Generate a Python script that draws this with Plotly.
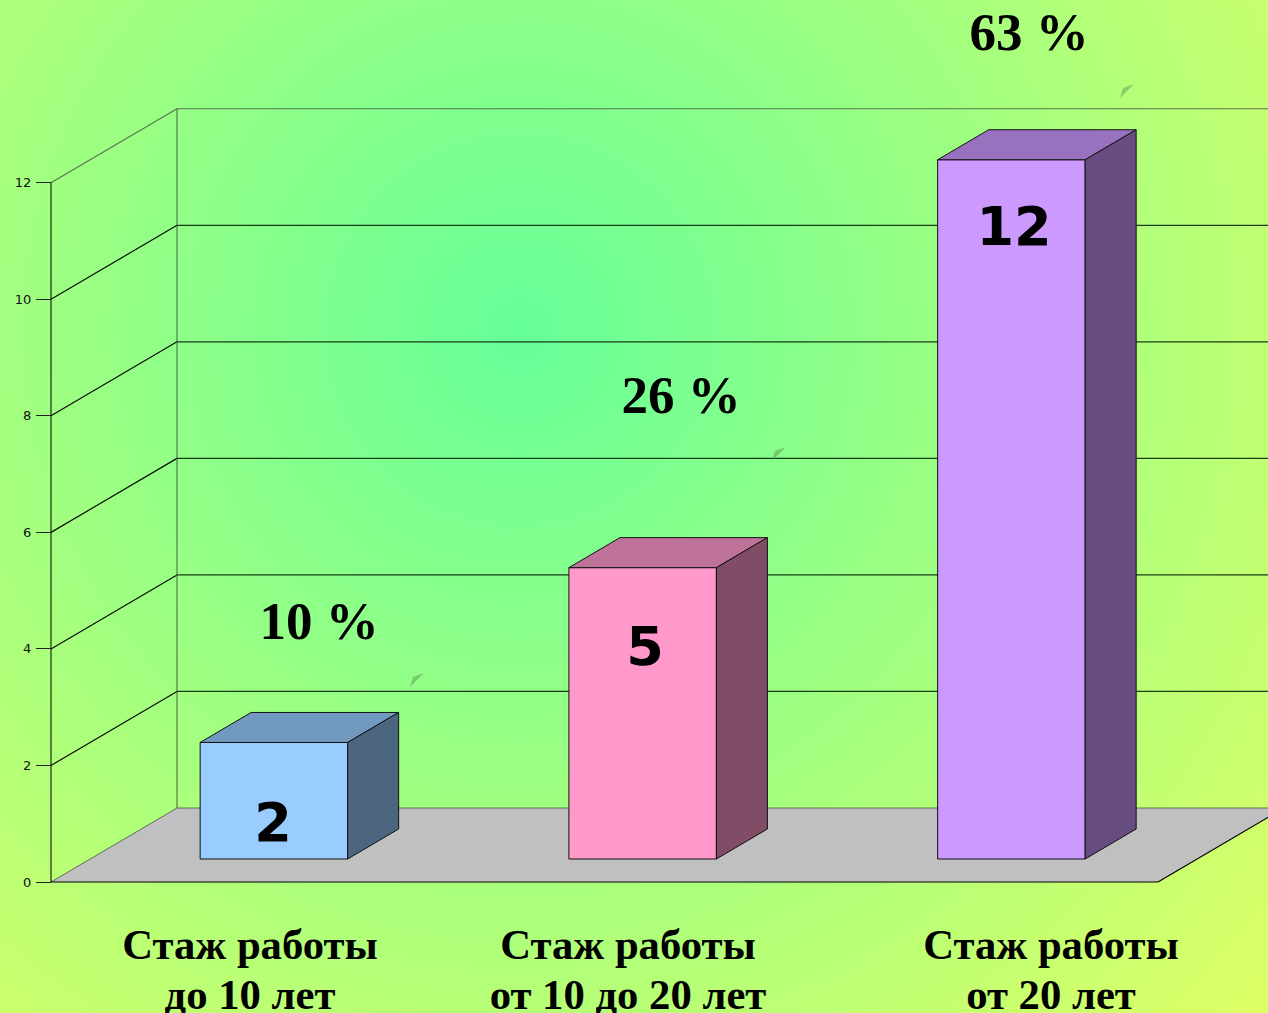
import base64
import plotly.graph_objects as go

# ---- data ----
categories = [["Стаж работы", "до 10 лет"], ["Стаж работы", "от 10 до 20 лет"], ["Стаж работы", "от 20 лет"]]
values = [2, 5, 12]
value_labels = ["2", "5", "12"]
percent_labels = ["10 %", "26 %", "63 %"]
y_ticks = [0, 2, 4, 6, 8, 10, 12]
front_colors = ["#99CCFF", "#FF99CC", "#CC99FF"]
top_colors = ["#7299BF", "#BF7299", "#9972BF"]
side_colors = ["#4C6680", "#804C66", "#664C80"]

# ---- layout constants ----
W, H = 1268, 1013
PX_X = 368.75            # px per category step
PX_Y = 58.27             # px per value unit
X0_PX = 234.7            # px of category 0 on the front plane
Y0_PX = 882              # px of value 0 on the front plane
BAR_W = 0.4


def xu(px):
    return (px - X0_PX) / PX_X


def yu(px):
    return (Y0_PX - px) / PX_Y


def dxu(px):
    return px / PX_X


def dyu(px):
    return px / PX_Y


x_range = [xu(0), xu(W)]
y_range = [yu(H), yu(0)]
plane_left, plane_right = xu(51), xu(1158)
wall_dx, wall_dy = dxu(126), dyu(74)
bar_dx, bar_dy = dxu(39.2), dyu(23)      # front face of bars relative to front plane
deep_dx, deep_dy = dxu(51), dyu(30)      # bar depth

svg = f"""<svg xmlns="http://www.w3.org/2000/svg" width="{W}" height="{H}">
<defs><radialGradient id="g" gradientUnits="userSpaceOnUse" cx="520" cy="330" r="1000">
<stop offset="0" stop-color="#66FF99"/><stop offset="1" stop-color="#DDFF66"/></radialGradient></defs>
<rect width="{W}" height="{H}" fill="url(#g)"/></svg>"""
bg_src = "data:image/svg+xml;base64," + base64.b64encode(svg.encode()).decode()

shapes = []


def line(x0, y0, x1, y1, color, width=1.0):
    shapes.append(dict(type="line", xref="x", yref="y", x0=x0, y0=y0, x1=x1, y1=y1,
                       line=dict(color=color, width=width), layer="below"))


# floor
floor = [(plane_left, 0), (plane_right, 0), (plane_right + wall_dx, wall_dy), (plane_left + wall_dx, wall_dy)]
shapes.append(dict(type="path", xref="x", yref="y", layer="below", fillcolor="#C0C0C0", line=dict(width=0),
                   path="M" + " L".join(f"{a},{b}" for a, b in floor) + " Z"))
# walls and grid
TOP = y_ticks[-1]
for t in y_ticks[1:-1]:
    line(plane_left, t, plane_left + wall_dx, t + wall_dy, "rgba(0,0,0,0.95)", 1.2)
    line(plane_left + wall_dx, t + wall_dy, plane_right + wall_dx, t + wall_dy, "rgba(10,40,10,0.9)", 1.2)
grey = "rgba(60,60,60,0.7)"
line(plane_left, TOP, plane_left + wall_dx, TOP + wall_dy, grey, 1.2)
line(plane_left + wall_dx, TOP + wall_dy, plane_right + wall_dx, TOP + wall_dy, grey, 1.2)
line(plane_left + wall_dx, wall_dy, plane_left + wall_dx, TOP + wall_dy, grey, 1.2)
line(plane_left + wall_dx, wall_dy, plane_right + wall_dx, wall_dy, grey)
line(plane_left, 0, plane_left + wall_dx, wall_dy, grey)
line(plane_left, 0, plane_left, TOP, "#000000")
line(plane_left, 0, plane_right, 0, "#000000", 1.2)
line(plane_right, 0, plane_right + wall_dx, wall_dy, "#000000", 1.2)

fig = go.Figure()

# front faces
fig.add_trace(go.Bar(
    x=[i + bar_dx for i in range(len(values))], y=values, base=[bar_dy] * len(values), width=BAR_W,
    marker=dict(color=front_colors, line=dict(color="#111111", width=1)),
    showlegend=False, hoverinfo="skip"))

# top and side faces
for i, v in enumerate(values):
    xl = i + bar_dx - BAR_W / 2
    xr = i + bar_dx + BAR_W / 2
    yb = bar_dy
    yt = bar_dy + v
    fig.add_trace(go.Scatter(
        x=[xl, xr, xr + deep_dx, xl + deep_dx, xl], y=[yt, yt, yt + deep_dy, yt + deep_dy, yt],
        fill="toself", fillcolor=top_colors[i], mode="lines",
        line=dict(color="#111111", width=1), showlegend=False, hoverinfo="skip"))
    fig.add_trace(go.Scatter(
        x=[xr, xr + deep_dx, xr + deep_dx, xr, xr], y=[yb, yb + deep_dy, yt + deep_dy, yt, yb],
        fill="toself", fillcolor=side_colors[i], mode="lines",
        line=dict(color="#111111", width=1), showlegend=False, hoverinfo="skip"))

# value labels
value_label_px = [(273, 827), (645, 651), (1014, 231)]
fig.add_trace(go.Scatter(
    x=[xu(p[0]) for p in value_label_px], y=[yu(p[1]) for p in value_label_px],
    mode="text", text=value_labels,
    textfont=dict(family="DejaVu Sans", size=54, color="#000000", weight="bold"),
    textposition="middle center", showlegend=False, hoverinfo="skip"))

# percent labels and their small leader marks
pct_px = [(319, 626), (681, 400), (1029, 37)]
fig.add_trace(go.Scatter(
    x=[xu(p[0]) for p in pct_px], y=[yu(p[1]) for p in pct_px],
    mode="text", text=percent_labels,
    textfont=dict(family="Liberation Serif", size=53, color="#000000", weight="bold"),
    textposition="middle center", showlegend=False, hoverinfo="skip"))
for (px, py) in pct_px:
    ax, ay = px + 91, py + 61
    fig.add_trace(go.Scatter(
        x=[xu(ax), xu(ax + 3), xu(ax + 14), xu(ax)], y=[yu(ay), yu(ay - 10), yu(ay - 14), yu(ay)],
        fill="toself", fillcolor="rgba(100,160,90,0.55)", mode="none",
        showlegend=False, hoverinfo="skip"))

# category labels
cat_px = [250, 628, 1051]
for line_no, py in enumerate([948, 998]):
    fig.add_trace(go.Scatter(
        x=[xu(p) for p in cat_px], y=[yu(py)] * 3,
        mode="text", text=[c[line_no] for c in categories],
        textfont=dict(family="Liberation Serif", size=42.7, color="#000000", weight="bold"),
        textposition="middle center", showlegend=False, hoverinfo="skip"))

fig.update_layout(
    width=W, height=H, margin=dict(l=0, r=0, t=0, b=0), autosize=False,
    paper_bgcolor="rgba(0,0,0,0)", plot_bgcolor="rgba(0,0,0,0)",
    showlegend=False, barmode="overlay",
    images=[dict(source=bg_src, xref="paper", yref="paper", x=0, y=1, sizex=1, sizey=1,
                 sizing="stretch", xanchor="left", yanchor="top", layer="below")],
    shapes=shapes,
    xaxis=dict(range=x_range, visible=False, domain=[0, 1], fixedrange=True),
    yaxis=dict(range=y_range, domain=[0, 1], anchor="free", position=51 / W, side="left",
               tickmode="array", tickvals=y_ticks, ticktext=[str(t) for t in y_ticks],
               ticks="outside", ticklen=15, tickcolor="#222222", tickwidth=1,
               ticklabelstandoff=2,
               tickfont=dict(family="DejaVu Sans", size=13, color="#111111"),
               showgrid=False, zeroline=False, showline=False, fixedrange=True),
)

fig.write_html("out.html", config=dict(displayModeBar=False),
               post_script="document.body.style.margin='0';document.body.style.overflow='hidden';")
